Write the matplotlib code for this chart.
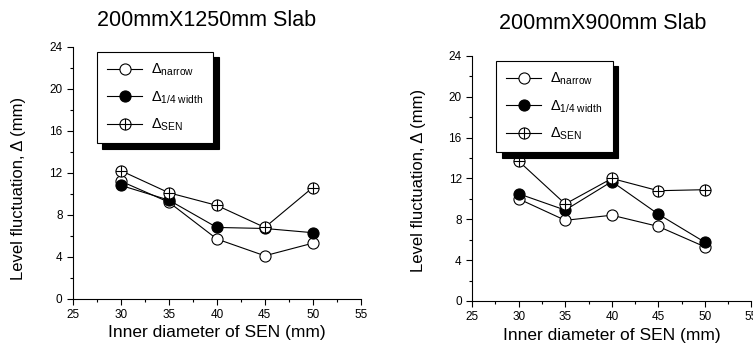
import numpy as np
import matplotlib
matplotlib.use("Agg")
import matplotlib.pyplot as plt
from matplotlib.path import Path
from matplotlib.ticker import MultipleLocator

plt.rcParams["font.family"] = ["Liberation Sans", "DejaVu Sans"]
plt.rcParams["mathtext.fontset"] = "custom"
plt.rcParams["mathtext.rm"] = "Liberation Sans"
plt.rcParams["mathtext.it"] = "Liberation Sans:italic"

diameters = [30, 35, 40, 45, 50]

# 200mm x 1250mm slab
wide_narrow = [11.2, 9.2, 5.7, 4.1, 5.3]
wide_quarter = [10.8, 9.4, 6.8, 6.7, 6.3]
wide_sen = [12.2, 10.1, 8.9, 6.8, 10.6]

# 200mm x 900mm slab
slim_narrow = [10.0, 7.9, 8.4, 7.3, 5.3]
slim_quarter = [10.5, 8.9, 11.7, 8.5, 5.75]
slim_sen = [13.7, 9.5, 12.0, 10.8, 10.9]

series_labels = [r"$\Delta_{\rm narrow}$", r"$\Delta_{\rm 1/4\ width}$",
                 r"$\Delta_{\rm SEN}$"]

# circle with a cross inside
circle_plus = Path.make_compound_path(
    Path.unit_circle(),
    Path([[-1, 0], [1, 0], [0, -1], [0, 1]],
         [Path.MOVETO, Path.LINETO, Path.MOVETO, Path.LINETO]),
)


def draw_panel(ax, narrow, quarter, sen, legend_xy, ylabel_pos):
    common = dict(color="black", lw=0.8, ms=8, mec="black", mew=0.8)
    ax.plot(diameters, narrow, marker="o", mfc="white",
            label=series_labels[0], **common)
    ax.plot(diameters, quarter, marker="o", mfc="black",
            label=series_labels[1], **common)
    ax.plot(diameters, sen, marker=circle_plus, mfc="white",
            label=series_labels[2], **common)

    ax.set_xlim(25, 55)
    ax.set_ylim(0, 24)
    ax.xaxis.set_major_locator(MultipleLocator(5))
    ax.xaxis.set_minor_locator(MultipleLocator(2.5))
    ax.yaxis.set_major_locator(MultipleLocator(4))
    ax.yaxis.set_minor_locator(MultipleLocator(2))
    ax.tick_params(which="both", direction="out", labelsize=8.5, width=0.8)
    ax.tick_params(which="major", length=4)
    ax.tick_params(which="minor", length=2)
    ax.spines["top"].set_visible(False)
    ax.spines["right"].set_visible(False)
    ax.spines["left"].set_linewidth(0.8)
    ax.spines["bottom"].set_linewidth(0.8)
    ax.set_xlabel("Inner diameter of SEN (mm)", fontsize=12.5, labelpad=3)
    ax.set_ylabel("Level fluctuation, \u0394 (mm)", fontsize=12)
    ax.yaxis.set_label_coords(-0.165, ylabel_pos)

    leg = ax.legend(loc="upper left", bbox_to_anchor=legend_xy,
                    fontsize=10.5, frameon=True, fancybox=False,
                    edgecolor="black", framealpha=1, borderaxespad=0,
                    handlelength=2.4, handletextpad=0.6, labelspacing=0.75,
                    borderpad=0.7,
                    shadow={"ox": 4, "oy": -4, "facecolor": "black",
                            "edgecolor": "black", "alpha": 1})
    leg.get_frame().set_linewidth(0.8)


fig = plt.figure(figsize=(7.53, 3.52), dpi=100)
ax1 = fig.add_axes([0.097, 0.151, 0.382, 0.716])
ax2 = fig.add_axes([0.627, 0.145, 0.371, 0.696])

draw_panel(ax1, wide_narrow, wide_quarter, wide_sen, (0.083, 0.98), 0.44)
draw_panel(ax2, slim_narrow, slim_quarter, slim_sen, (0.086, 0.98), 0.49)

fig.text(0.274, 0.943, "200mmX1250mm Slab", ha="center", va="center",
         fontsize=15.5)
fig.text(0.8, 0.932, "200mmX900mm Slab", ha="center", va="center",
         fontsize=15.5)

fig.savefig("out.png", dpi=100)
